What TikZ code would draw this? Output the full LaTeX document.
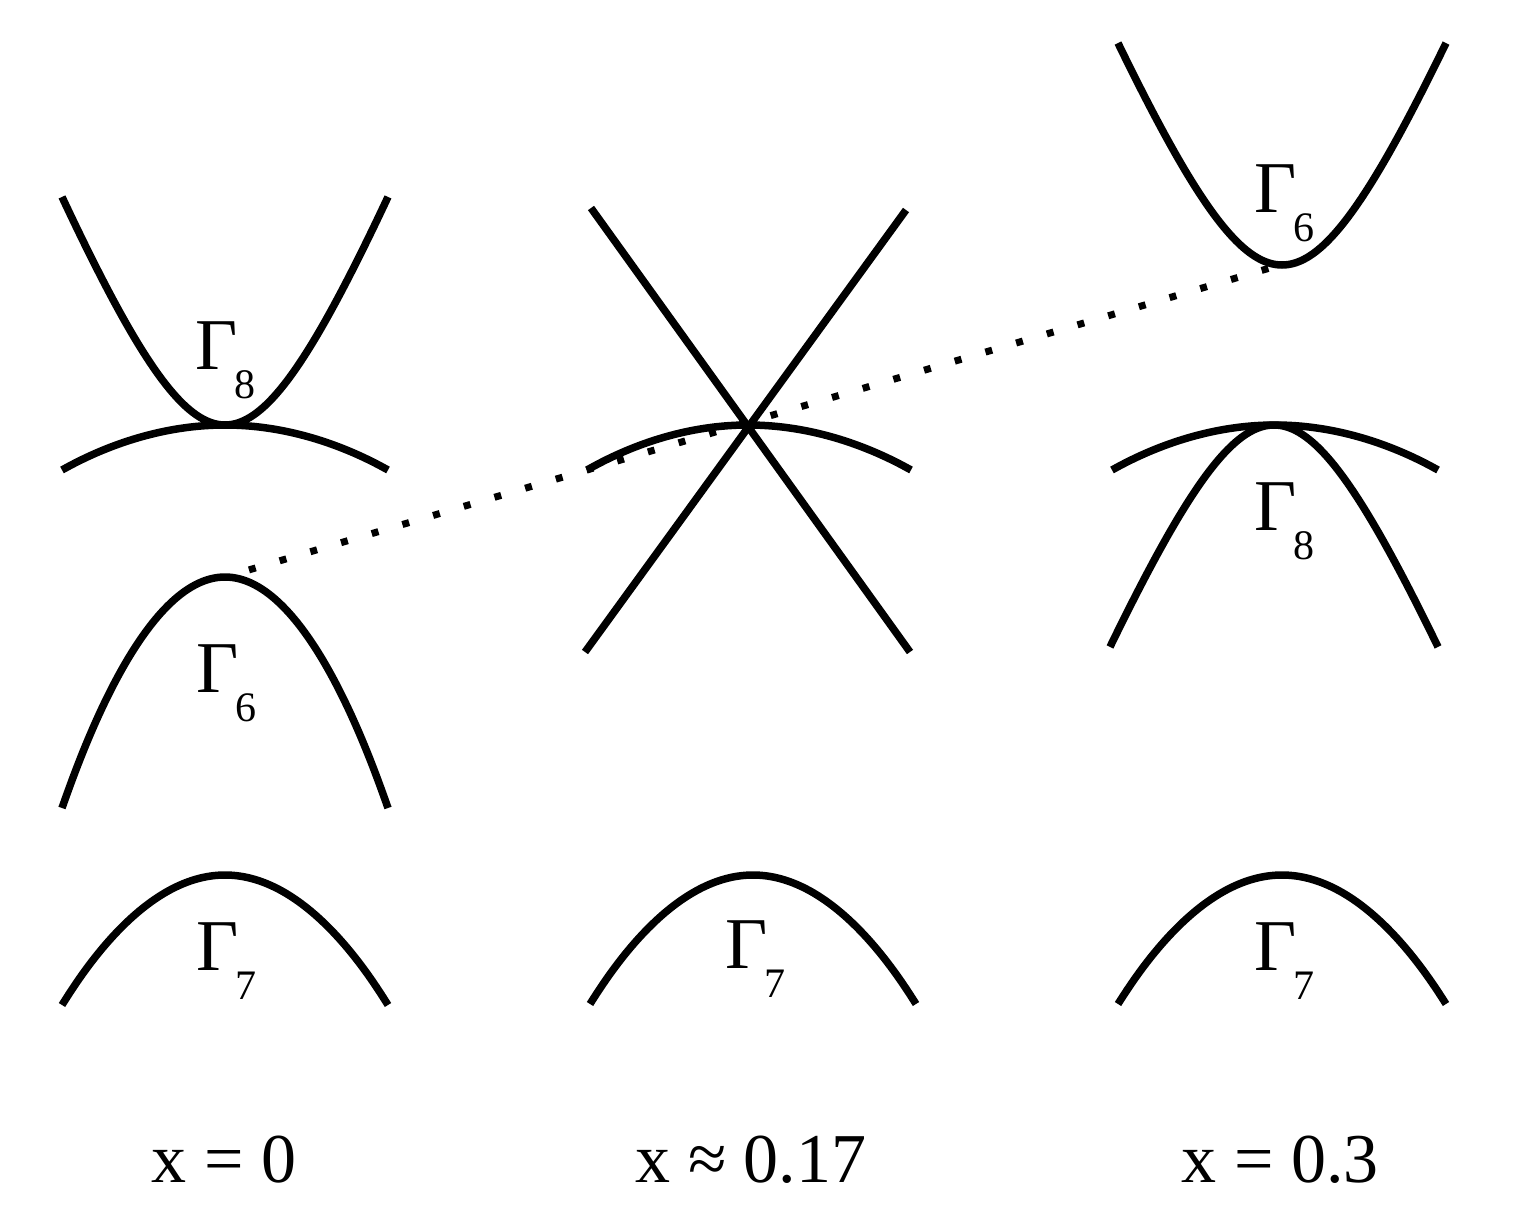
\documentclass[tikz,border=0pt]{standalone}
\usepackage{fontspec}
\setmainfont{Liberation Serif}
\tikzset{
  band/.style={line width=7.5pt, line cap=butt},
  dotline/.style={line width=7pt, dash pattern=on 7pt off 25pt, dash phase=7pt},
  glabel/.style={anchor=base west, inner sep=0pt},
  xlabel/.style={anchor=base, inner sep=0pt, font=\fontsize{70pt}{70pt}\selectfont},
}
\newcommand{\gsym}[1]{{\fontsize{73pt}{73pt}\selectfont Γ}\kern-3pt\raisebox{-29pt}{\fontsize{42pt}{42pt}\selectfont #1}}
\begin{document}
\begin{tikzpicture}[x=1pt,y=-1pt]
\useasboundingbox (0,0) rectangle (1513,1231);
% panel 1 (x = 0)
\draw[band] plot[domain=-163:163,samples=121] ({225+\x},{425-250*(sqrt(1+(\x/100)*(\x/100))-1)});
\draw[band] (62,470) parabola bend (225,425) (388,470);
\draw[band] (62,808) parabola bend (225,577) (388,808);
\draw[band] (62,1005) parabola bend (225,875) (388,1005);
% panel 2
\draw[band] (591,208) -- (910,652);
\draw[band] (906,210) -- (585,652);
\draw[band] (587,470) parabola bend (748,425) (911,470);
\draw[band] (590,1004) parabola bend (753,875) (916,1004);
% panel 3
\draw[band] plot[domain=-164:164,samples=121] ({1282+\x},{265-241*(sqrt(1+(\x/100)*(\x/100))-1)});
\draw[band] (1112,470) parabola bend (1275,425) (1438,470);
\draw[band] plot[domain=-164:164,samples=121] ({1274+\x},{425+241*(sqrt(1+(\x/100)*(\x/100))-1)});
\draw[band] (1118,1004) parabola bend (1282,875) (1446,1004);
% dotted line
\coordinate (v6) at (225,577);
\coordinate (c6) at (1280,265);
\draw[dotline] (v6) -- (c6);
% labels
\node[glabel] (l8a) at (195,369) {\gsym{8}};
\node[glabel] (l6a) at (196,692) {\gsym{6}};
\node[glabel] (l7a) at (196,970) {\gsym{7}};
\node[glabel] (l7b) at (725,968) {\gsym{7}};
\node[glabel] (l6c) at (1254,212) {\gsym{6}};
\node[glabel] (l8c) at (1254,530) {\gsym{8}};
\node[glabel] (l7c) at (1254,970) {\gsym{7}};
\node[xlabel] (xa) at (224,1182) {x = 0};
\node[xlabel] (xb) at (751,1182) {x ≈ 0.17};
\node[xlabel] (xc) at (1280,1182) {x = 0.3};
\end{tikzpicture}
\end{document}
